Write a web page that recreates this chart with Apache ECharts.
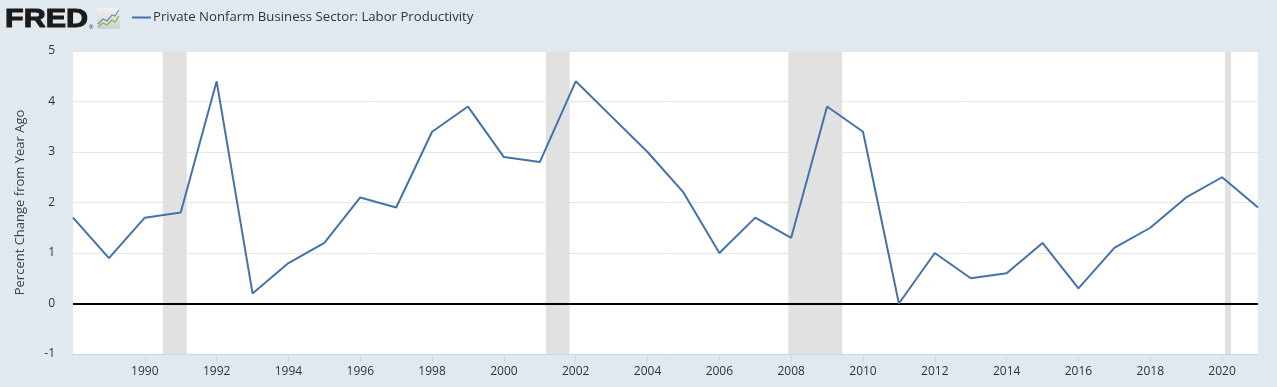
<!DOCTYPE html>
<html><head><meta charset="utf-8">
<script src="https://cdn.jsdelivr.net/npm/echarts@6/dist/echarts.min.js"></script>
<style>html,body{margin:0;padding:0;background:#e1e9f0;}#c{width:1277px;height:387px;}</style>
</head><body><div id="c"></div>
<script>
const years = [1988,1989,1990,1991,1992,1993,1994,1995,1996,1997,1998,1999,2000,2001,2002,2003,2004,2005,2006,2007,2008,2009,2010,2011,2012,2013,2014,2015,2016,2017,2018,2019,2020,2021];
const productivity = [1.7,0.9,1.7,1.8,4.4,0.2,0.8,1.2,2.1,1.9,3.4,3.9,2.9,2.8,4.4,3.7,3.0,2.2,1.0,1.7,1.3,3.9,3.4,0.0,1.0,0.5,0.6,1.2,0.3,1.1,1.5,2.1,2.5,1.9];
// recession periods as fractional years (start, end)
const recessions = [[1990.5,1991.17],[2001.17,2001.83],[2007.92,2009.42],[2020.08,2020.25]];
const yTicks = [-1,0,1,2,3,4,5];
const xRange = [1988,2021];
const seriesName = 'Private Nonfarm Business Sector: Labor Productivity';

const chart = echarts.init(document.getElementById('c'), null, {renderer:'canvas'});
const font = "'Open Sans', 'Noto Sans', sans-serif";
chart.setOption({
  backgroundColor:'#e1e9f0',
  animation:false,
  textStyle:{fontFamily:font},
  grid:{left:73,right:19,top:51,bottom:33,show:true,backgroundColor:'#ffffff',borderWidth:0},
  legend:{show:true,left:132,top:11,padding:0,itemWidth:19,itemHeight:2,itemGap:4,
    icon:'rect',
    textStyle:{fontFamily:font,fontSize:13.2,color:'#333333',padding:[0,0,0,-3]},
    data:[{name:seriesName}]},
  graphic:[
    {type:'text',x:5,y:8,scaleX:1.22,style:{text:'FRED',fontFamily:"'Liberation Sans', Arial, sans-serif",fontWeight:'bold',fontSize:25,fill:'#1a1a1a',stroke:'#1a1a1a',lineWidth:1}},
    {type:'text',x:89,y:24,style:{text:'®',fontSize:6,fill:'#1a1a1a'}},
    {type:'rect',shape:{x:97,y:8,width:23,height:21,r:2},style:{fill:{type:'linear',x:0,y:0,x2:0,y2:1,colorStops:[{offset:0,color:'#f2f2f2'},{offset:1,color:'#cfcfcf'}]}}},
    {type:'polyline',shape:{points:[[98,24],[103,19],[107,21],[112,15],[115,16],[119,10]]},style:{stroke:'#6a8fb8',lineWidth:1.3,fill:null}},
    {type:'polyline',shape:{points:[[98,27],[103,23],[107,25],[112,20],[115,22],[119,16]]},style:{stroke:'#8fb04a',lineWidth:1.3,fill:null}}
  ],
  xAxis:{type:'value',min:xRange[0],max:xRange[1],interval:2,
    axisLine:{show:true,onZero:false,lineStyle:{color:'#ccd6eb',width:1}},
    axisTick:{show:true,length:8,lineStyle:{color:'#ccd6eb'},
      customValues:years.filter(y=>y%2===0 && y>xRange[0] && y<xRange[1])},
    axisLabel:{fontFamily:font,fontSize:12,color:'#333333',margin:12,
      formatter:v=> ((v===xRange[0]||v===xRange[1])? '' : String(v))},
    splitLine:{show:false}},
  yAxis:{type:'value',min:yTicks[0],max:yTicks[yTicks.length-1],interval:1,
    name:'Percent Change from Year Ago',nameLocation:'middle',nameGap:46,
    nameTextStyle:{fontFamily:font,fontSize:13,color:'#444444'},
    axisLine:{show:false},axisTick:{show:false},
    axisLabel:{fontFamily:font,fontSize:12,color:'#333333',margin:18},
    splitLine:{show:true,lineStyle:{color:'#e6e6e6',width:1}}},
  series:[{
    name:seriesName,type:'line',
    data:years.map((y,i)=>[y,productivity[i]]),
    showSymbol:false,symbol:'none',
    lineStyle:{color:'#4572a7',width:2},
    itemStyle:{color:'#4572a7'},
    z:5,
    markArea:{silent:true,itemStyle:{color:'#e1e1e1'},
      data:recessions.map(r=>[{xAxis:r[0]},{xAxis:r[1]}])},
    markLine:{silent:true,symbol:'none',label:{show:false},
      lineStyle:{color:'#000000',width:2,type:'solid'},
      data:[{yAxis:0}]}
  }]
});
</script></body></html>
